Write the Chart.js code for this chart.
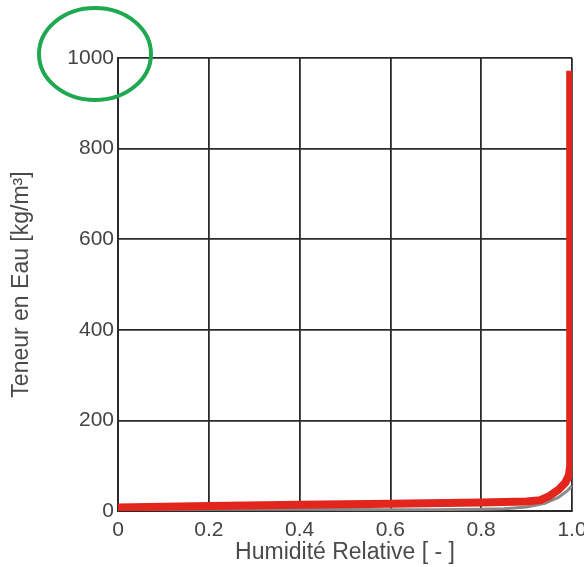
<!DOCTYPE html>
<html>
<head>
<meta charset="utf-8">
<script src="https://cdn.jsdelivr.net/npm/chart.js@4/dist/chart.umd.min.js"></script>
<style>
  html, body { margin: 0; padding: 0; background: #fff; }
  #wrap { width: 584px; height: 567px; }
</style>
</head>
<body>
<div id="wrap"><canvas id="teneurChart"></canvas></div>
<script>
// Courbe principale (rouge) : humidité relative -> teneur en eau
var hrRouge = [0, 0.2, 0.4, 0.6, 0.8, 0.9, 0.93, 0.95, 0.97, 0.985, 0.993, 0.996, 0.996];
var eauRouge = [8, 11, 14, 16, 19, 21, 24, 33, 47, 62, 78, 100, 972];

// Courbe secondaire (grise), en partie cachée sous la rouge
var hrGris = [0, 0.2, 0.4, 0.6, 0.7, 0.8, 0.85, 0.9, 0.94, 0.97, 0.99, 1.0];
var eauGris = [3, 4, 4, 3, 3, 4, 5, 9, 17, 30, 45, 55];

var xTicks = ['0', '0.2', '0.4', '0.6', '0.8', '1.0'];
var yTicks = [0, 200, 400, 600, 800, 1000];

function points(xs, ys) {
    return xs.map(function (x, i) { return { x: x, y: ys[i] }; });
}

// Ellipse verte autour de l'étiquette 1000
var cercleVert = {
    id: 'cercleVert',
    afterDraw: function (chart) {
        var c = chart.ctx;
        var cx = chart.chartArea.left - 23;
        var cy = chart.scales.y.getPixelForValue(1000) - 4;
        c.save();
        c.beginPath();
        c.ellipse(cx, cy, 56, 46, 0, 0, Math.PI * 2);
        c.strokeStyle = '#1ea84f';
        c.lineWidth = 4;
        c.stroke();
        c.restore();
    }
};

var police = { family: 'Liberation Sans', size: 21 };
var policeTitre = { family: 'Liberation Sans', size: 23 };

var ctx = document.getElementById('teneurChart').getContext('2d');
var teneurChart = new Chart(ctx, {
    type: 'line',
    data: {
        datasets: [{
            label: 'gris',
            data: points(hrGris, eauGris),
            borderColor: '#8a8a8a',
            borderWidth: 3,
            pointRadius: 0,
            order: 2
        }, {
            label: 'rouge',
            data: points(hrRouge, eauRouge),
            borderColor: '#e2261d',
            borderWidth: 8,
            borderJoinStyle: 'round',
            borderCapStyle: 'butt',
            pointRadius: 0,
            order: 1
        }]
    },
    options: {
        responsive: true,
        maintainAspectRatio: false,
        animation: false,
        layout: {
            autoPadding: false,
            padding: { left: 0, right: 12, top: 58, bottom: 0 }
        },
        plugins: {
            legend: { display: false },
            tooltip: { enabled: false }
        },
        scales: {
            x: {
                type: 'linear',
                min: 0,
                max: 1,
                afterBuildTicks: function (axis) {
                    axis.ticks = xTicks.map(function (t) { return { value: parseFloat(t) }; });
                },
                afterFit: function (axis) {
                    axis.height = 56;
                    axis.paddingLeft = 0;
                    axis.paddingRight = 0;
                },
                ticks: {
                    padding: 7,
                    color: '#444',
                    font: police,
                    maxRotation: 0,
                    callback: function (v) {
                        var i = xTicks.map(parseFloat).indexOf(v);
                        return i >= 0 ? xTicks[i] : '';
                    }
                },
                grid: { color: '#2a2a2a', lineWidth: 1.8, drawTicks: false },
                border: { color: '#2a2a2a', width: 2 },
                title: {
                    display: true,
                    text: 'Humidité Relative [ - ]',
                    color: '#4a4a4a',
                    font: policeTitre,
                    padding: { top: 0, bottom: 1 }
                }
            },
            y: {
                min: 0,
                max: 1000,
                afterBuildTicks: function (axis) {
                    axis.ticks = yTicks.map(function (t) { return { value: t }; });
                },
                afterFit: function (axis) {
                    axis.width = 118;
                    axis.paddingTop = 0;
                    axis.paddingBottom = 0;
                },
                ticks: {
                    padding: 4,
                    color: '#444',
                    font: police,
                    callback: function (v) { return String(v); }
                },
                grid: { color: '#2a2a2a', lineWidth: 1.8, drawTicks: false },
                border: { color: '#2a2a2a', width: 2 },
                title: {
                    display: true,
                    text: 'Teneur en Eau [kg/m³]',
                    color: '#4a4a4a',
                    font: policeTitre,
                    padding: { top: 8, bottom: 0 }
                }
            }
        }
    },
    plugins: [cercleVert]
});
</script>
</body>
</html>
